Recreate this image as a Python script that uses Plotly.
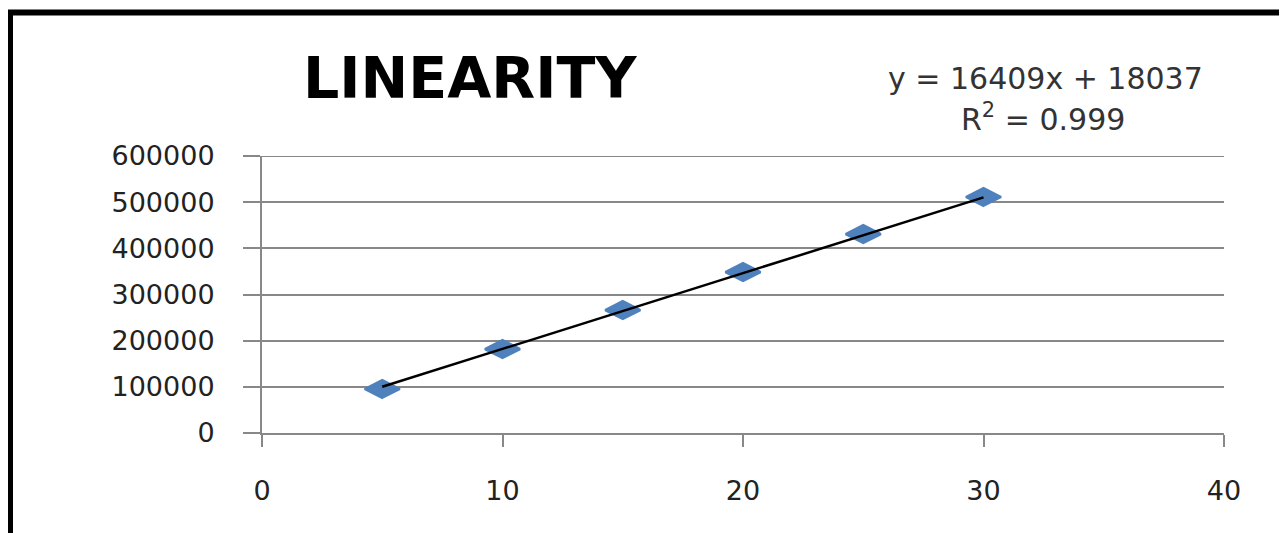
import plotly.graph_objects as go

# Data
concentration = [5, 10, 15, 20, 25, 30]
peak_area = [95300, 181900, 266400, 348700, 431000, 511200]
slope = 16409
intercept = 18037
r_squared = 0.999
x_ticks = [0, 10, 20, 30, 40]
y_ticks = [0, 100000, 200000, 300000, 400000, 500000, 600000]
title_text = "LINEARITY"

trend_x = [concentration[0], concentration[-1]]
trend_y = [slope * v + intercept for v in trend_x]

# page body has an 8px margin; figure coordinates are offset by it
OFF = 8
W, H = 1287, 533
L, R, T, B = 262 - OFF, 1224 - OFF, 156 - OFF, 433 - OFF
Y_MAX = y_ticks[-1]


def px(xp):
    return (xp - OFF - L) / (R - L)


def py(yp):
    return (B - (yp - OFF)) / (B - T)


fig = go.Figure()
fig.add_trace(go.Scatter(
    x=concentration, y=peak_area, mode="markers",
    marker=dict(symbol="diamond-wide", size=25, color="#4F81BD",
                line=dict(color="#4F81BD", width=2.5)),
    showlegend=False, hoverinfo="x+y",
))
fig.add_trace(go.Scatter(
    x=trend_x, y=trend_y, mode="lines",
    line=dict(color="black", width=2.5),
    showlegend=False, hoverinfo="skip",
))

tick_font = dict(family="DejaVu Sans", size=27, color="#222222")
axis_col = "#888888"

fig.update_layout(
    width=W, height=H,
    margin=dict(l=L, r=W - R, t=T, b=H - B, pad=0),
    paper_bgcolor="white", plot_bgcolor="white",
    xaxis=dict(
        range=[0, 40], tickvals=x_ticks, ticktext=[str(v) for v in x_ticks],
        showgrid=False, zeroline=False,
        showline=True, linecolor=axis_col, linewidth=2,
        ticks="outside", ticklen=12, tickwidth=2, tickcolor=axis_col,
        tickfont=tick_font, ticklabelstandoff=21,
    ),
    yaxis=dict(
        range=[0, Y_MAX], tickvals=y_ticks, ticktext=[str(v) for v in y_ticks],
        showgrid=True, gridcolor=axis_col, gridwidth=2, zeroline=False,
        showline=True, linecolor=axis_col, linewidth=2,
        ticks="outside", ticklen=17, tickwidth=2, tickcolor=axis_col,
        tickfont=tick_font, ticklabelstandoff=23,
    ),
    shapes=[
        # top gridline (plotly omits the gridline on the plot edge)
        dict(type="line", xref="paper", yref="y", x0=0, x1=1,
             y0=Y_MAX, y1=Y_MAX, line=dict(color=axis_col, width=2),
             layer="below"),
        dict(type="rect", xref="paper", yref="paper",
             x0=px(10), x1=px(1330), y0=py(570), y1=py(12.5),
             line=dict(color="black", width=6), fillcolor="rgba(0,0,0,0)",
             layer="above"),
    ],
    annotations=[
        dict(text="<b>" + title_text + "</b>", xref="paper", yref="paper",
             x=px(470), y=py(78), xanchor="center", yanchor="middle",
             showarrow=False,
             font=dict(family="DejaVu Sans", size=57, color="black")),
        dict(text=f"y = {slope}x + {intercept}", xref="paper", yref="paper",
             x=px(1045), y=py(78), xanchor="center", yanchor="middle",
             showarrow=False,
             font=dict(family="DejaVu Sans", size=30, color="#333333")),
        dict(text=f"R<sup>2</sup> = {r_squared}", xref="paper", yref="paper",
             x=px(1043), y=py(117), xanchor="center", yanchor="middle",
             showarrow=False,
             font=dict(family="DejaVu Sans", size=30, color="#333333")),
    ],
)

fig.write_html("out.html")
